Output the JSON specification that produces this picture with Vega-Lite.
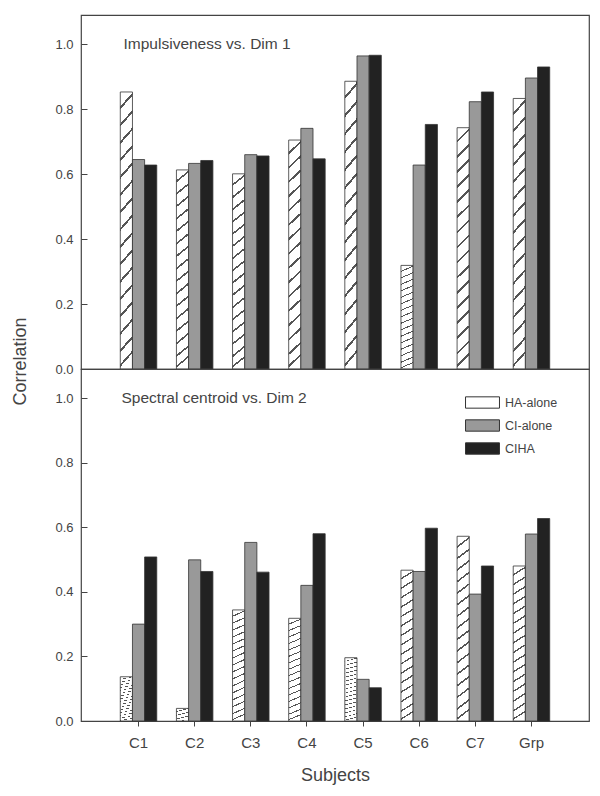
{
  "$schema": "https://vega.github.io/schema/vega-lite/v6.json",
  "background": "white",
  "padding": {"left": 10, "top": 14, "right": 11, "bottom": 5},
  "spacing": 0,
  "bounds": "flush",
  "config": {
    "font": "Liberation Sans",
    "view": {"stroke": "#444", "strokeWidth": 1.2},
    "axis": {"labelColor": "#444", "titleColor": "#444", "tickColor": "#444", "labelFont": "Liberation Sans", "titleFont": "Liberation Sans", "titleFontWeight": "normal"},
    "legend": {"labelColor": "#444", "labelFont": "Liberation Sans"}
  },
  "resolve": {"scale": {"fill": "independent"}, "legend": {"fill": "independent"}},
  "data": {"values": [
    {"dim": "Dim 1", "subject": "C1", "cond": "HA-alone", "value": 0.853},
    {"dim": "Dim 1", "subject": "C1", "cond": "CI-alone", "value": 0.645},
    {"dim": "Dim 1", "subject": "C1", "cond": "CIHA", "value": 0.628},
    {"dim": "Dim 1", "subject": "C2", "cond": "HA-alone", "value": 0.613},
    {"dim": "Dim 1", "subject": "C2", "cond": "CI-alone", "value": 0.633},
    {"dim": "Dim 1", "subject": "C2", "cond": "CIHA", "value": 0.642},
    {"dim": "Dim 1", "subject": "C3", "cond": "HA-alone", "value": 0.601},
    {"dim": "Dim 1", "subject": "C3", "cond": "CI-alone", "value": 0.66},
    {"dim": "Dim 1", "subject": "C3", "cond": "CIHA", "value": 0.656},
    {"dim": "Dim 1", "subject": "C4", "cond": "HA-alone", "value": 0.705},
    {"dim": "Dim 1", "subject": "C4", "cond": "CI-alone", "value": 0.741},
    {"dim": "Dim 1", "subject": "C4", "cond": "CIHA", "value": 0.647},
    {"dim": "Dim 1", "subject": "C5", "cond": "HA-alone", "value": 0.886},
    {"dim": "Dim 1", "subject": "C5", "cond": "CI-alone", "value": 0.964},
    {"dim": "Dim 1", "subject": "C5", "cond": "CIHA", "value": 0.966},
    {"dim": "Dim 1", "subject": "C6", "cond": "HA-alone", "value": 0.319},
    {"dim": "Dim 1", "subject": "C6", "cond": "CI-alone", "value": 0.628},
    {"dim": "Dim 1", "subject": "C6", "cond": "CIHA", "value": 0.753},
    {"dim": "Dim 1", "subject": "C7", "cond": "HA-alone", "value": 0.743},
    {"dim": "Dim 1", "subject": "C7", "cond": "CI-alone", "value": 0.823},
    {"dim": "Dim 1", "subject": "C7", "cond": "CIHA", "value": 0.853},
    {"dim": "Dim 1", "subject": "Grp", "cond": "HA-alone", "value": 0.833},
    {"dim": "Dim 1", "subject": "Grp", "cond": "CI-alone", "value": 0.896},
    {"dim": "Dim 1", "subject": "Grp", "cond": "CIHA", "value": 0.93},
    {"dim": "Dim 2", "subject": "C1", "cond": "HA-alone", "value": 0.137},
    {"dim": "Dim 2", "subject": "C1", "cond": "CI-alone", "value": 0.3},
    {"dim": "Dim 2", "subject": "C1", "cond": "CIHA", "value": 0.508},
    {"dim": "Dim 2", "subject": "C2", "cond": "HA-alone", "value": 0.039},
    {"dim": "Dim 2", "subject": "C2", "cond": "CI-alone", "value": 0.499},
    {"dim": "Dim 2", "subject": "C2", "cond": "CIHA", "value": 0.463},
    {"dim": "Dim 2", "subject": "C3", "cond": "HA-alone", "value": 0.344},
    {"dim": "Dim 2", "subject": "C3", "cond": "CI-alone", "value": 0.553},
    {"dim": "Dim 2", "subject": "C3", "cond": "CIHA", "value": 0.461},
    {"dim": "Dim 2", "subject": "C4", "cond": "HA-alone", "value": 0.318},
    {"dim": "Dim 2", "subject": "C4", "cond": "CI-alone", "value": 0.42},
    {"dim": "Dim 2", "subject": "C4", "cond": "CIHA", "value": 0.58},
    {"dim": "Dim 2", "subject": "C5", "cond": "HA-alone", "value": 0.196},
    {"dim": "Dim 2", "subject": "C5", "cond": "CI-alone", "value": 0.129},
    {"dim": "Dim 2", "subject": "C5", "cond": "CIHA", "value": 0.103},
    {"dim": "Dim 2", "subject": "C6", "cond": "HA-alone", "value": 0.467},
    {"dim": "Dim 2", "subject": "C6", "cond": "CI-alone", "value": 0.463},
    {"dim": "Dim 2", "subject": "C6", "cond": "CIHA", "value": 0.597},
    {"dim": "Dim 2", "subject": "C7", "cond": "HA-alone", "value": 0.572},
    {"dim": "Dim 2", "subject": "C7", "cond": "CI-alone", "value": 0.393},
    {"dim": "Dim 2", "subject": "C7", "cond": "CIHA", "value": 0.48},
    {"dim": "Dim 2", "subject": "Grp", "cond": "HA-alone", "value": 0.48},
    {"dim": "Dim 2", "subject": "Grp", "cond": "CI-alone", "value": 0.579},
    {"dim": "Dim 2", "subject": "Grp", "cond": "CIHA", "value": 0.627}
  ]},
  "vconcat": [
    {
      "width": 508,
      "height": 354,
      "layer": [
        {
          "transform": [{"filter": "datum.dim === 'Dim 1'"}],
          "mark": {"type": "bar", "stroke": "#333", "strokeWidth": 0.8},
          "encoding": {
            "x": {"field": "subject", "type": "nominal", "sort": ["C1", "C2", "C3", "C4", "C5", "C6", "C7", "Grp"], "scale": {"paddingInner": 0.35, "paddingOuter": 0.7}, "axis": null},
            "xOffset": {"field": "cond", "type": "nominal", "sort": ["HA-alone", "CI-alone", "CIHA"], "scale": {"paddingInner": 0, "paddingOuter": 0}},
            "y": {"field": "value", "type": "quantitative", "scale": {"domain": [0, 1.09], "nice": false},
              "axis": {"values": [0, 0.1, 0.2, 0.3, 0.4, 0.5, 0.6, 0.7, 0.8, 0.9, 1.0],
                "labelExpr": "round(datum.value*10) % 2 === 0 ? format(datum.value, '.1f') : ''",
                "tickSize": {"condition": {"test": "round(datum.value*10) % 2 === 1", "value": -3}, "value": -6},
                "labelPadding": 14, "labelFontSize": 13, "domain": false, "grid": false,
                "title": "Correlation", "titleFontSize": 18, "titleX": -52, "titleY": 346}},
            "fill": {
              "condition": {"test": "datum.cond === 'HA-alone'", "value": {"gradient": "linear", "x1": 0, "y1": 0, "x2": 0.05, "y2": 1, "stops": [
                {"offset": 0, "color": "#ffffff"}, {"offset": 0.052, "color": "#ffffff"}, {"offset": 0.052, "color": "#555555"}, {"offset": 0.0625, "color": "#555555"},
                {"offset": 0.0625, "color": "#ffffff"}, {"offset": 0.1145, "color": "#ffffff"}, {"offset": 0.1145, "color": "#555555"}, {"offset": 0.125, "color": "#555555"},
                {"offset": 0.125, "color": "#ffffff"}, {"offset": 0.177, "color": "#ffffff"}, {"offset": 0.177, "color": "#555555"}, {"offset": 0.1875, "color": "#555555"},
                {"offset": 0.1875, "color": "#ffffff"}, {"offset": 0.2395, "color": "#ffffff"}, {"offset": 0.2395, "color": "#555555"}, {"offset": 0.25, "color": "#555555"},
                {"offset": 0.25, "color": "#ffffff"}, {"offset": 0.302, "color": "#ffffff"}, {"offset": 0.302, "color": "#555555"}, {"offset": 0.3125, "color": "#555555"},
                {"offset": 0.3125, "color": "#ffffff"}, {"offset": 0.3645, "color": "#ffffff"}, {"offset": 0.3645, "color": "#555555"}, {"offset": 0.375, "color": "#555555"},
                {"offset": 0.375, "color": "#ffffff"}, {"offset": 0.427, "color": "#ffffff"}, {"offset": 0.427, "color": "#555555"}, {"offset": 0.4375, "color": "#555555"},
                {"offset": 0.4375, "color": "#ffffff"}, {"offset": 0.4895, "color": "#ffffff"}, {"offset": 0.4895, "color": "#555555"}, {"offset": 0.5, "color": "#555555"},
                {"offset": 0.5, "color": "#ffffff"}, {"offset": 0.552, "color": "#ffffff"}, {"offset": 0.552, "color": "#555555"}, {"offset": 0.5625, "color": "#555555"},
                {"offset": 0.5625, "color": "#ffffff"}, {"offset": 0.6145, "color": "#ffffff"}, {"offset": 0.6145, "color": "#555555"}, {"offset": 0.625, "color": "#555555"},
                {"offset": 0.625, "color": "#ffffff"}, {"offset": 0.677, "color": "#ffffff"}, {"offset": 0.677, "color": "#555555"}, {"offset": 0.6875, "color": "#555555"},
                {"offset": 0.6875, "color": "#ffffff"}, {"offset": 0.7395, "color": "#ffffff"}, {"offset": 0.7395, "color": "#555555"}, {"offset": 0.75, "color": "#555555"},
                {"offset": 0.75, "color": "#ffffff"}, {"offset": 0.802, "color": "#ffffff"}, {"offset": 0.802, "color": "#555555"}, {"offset": 0.8125, "color": "#555555"},
                {"offset": 0.8125, "color": "#ffffff"}, {"offset": 0.8645, "color": "#ffffff"}, {"offset": 0.8645, "color": "#555555"}, {"offset": 0.875, "color": "#555555"},
                {"offset": 0.875, "color": "#ffffff"}, {"offset": 0.927, "color": "#ffffff"}, {"offset": 0.927, "color": "#555555"}, {"offset": 0.9375, "color": "#555555"},
                {"offset": 0.9375, "color": "#ffffff"}, {"offset": 0.98, "color": "#ffffff"}, {"offset": 0.98, "color": "#555555"}, {"offset": 0.99, "color": "#555555"},
                {"offset": 0.99, "color": "#ffffff"}, {"offset": 1, "color": "#ffffff"}
              ]}},
              "field": "cond", "type": "nominal",
              "scale": {"domain": ["HA-alone", "CI-alone", "CIHA"], "range": ["#ffffff", "#999999", "#222222"]},
              "legend": null
            }
          }
        },
        {
          "data": {"values": [{"label": "Impulsiveness vs. Dim 1"}]},
          "mark": {"type": "text", "align": "left", "baseline": "middle", "dx": -15, "fontSize": 15.5, "fontWeight": "normal", "color": "#444"},
          "encoding": {
            "x": {"datum": "C1", "type": "nominal"},
            "y": {"datum": 1.0, "type": "quantitative"},
            "text": {"field": "label", "type": "nominal"}
          }
        }
      ]
    },
    {
      "width": 508,
      "height": 352,
      "layer": [
        {
          "transform": [{"filter": "datum.dim === 'Dim 2'"}],
          "mark": {"type": "bar", "stroke": "#333", "strokeWidth": 0.8},
          "encoding": {
            "x": {"field": "subject", "type": "nominal", "sort": ["C1", "C2", "C3", "C4", "C5", "C6", "C7", "Grp"], "scale": {"paddingInner": 0.35, "paddingOuter": 0.7},
              "axis": {"title": "Subjects", "titleFontSize": 18, "titlePadding": 16, "labelFontSize": 15, "labelAngle": 0, "tickSize": 5, "labelPadding": 9, "domain": false}},
            "xOffset": {"field": "cond", "type": "nominal", "sort": ["HA-alone", "CI-alone", "CIHA"], "scale": {"paddingInner": 0, "paddingOuter": 0}},
            "y": {"field": "value", "type": "quantitative", "scale": {"domain": [0, 1.09], "nice": false},
              "axis": {"values": [0, 0.1, 0.2, 0.3, 0.4, 0.5, 0.6, 0.7, 0.8, 0.9, 1.0],
                "labelExpr": "round(datum.value*10) % 2 === 0 ? format(datum.value, '.1f') : ''",
                "tickSize": {"condition": {"test": "round(datum.value*10) % 2 === 1", "value": -3}, "value": -6},
                "labelPadding": 14, "labelFontSize": 13, "domain": false, "grid": false, "title": null}},
            "fill": {
              "condition": {"test": "datum.cond === 'HA-alone'", "value": {"gradient": "linear", "x1": 0, "y1": 0, "x2": 0.05, "y2": 1, "stops": [
                {"offset": 0, "color": "#ffffff"}, {"offset": 0.052, "color": "#ffffff"}, {"offset": 0.052, "color": "#555555"}, {"offset": 0.0625, "color": "#555555"},
                {"offset": 0.0625, "color": "#ffffff"}, {"offset": 0.1145, "color": "#ffffff"}, {"offset": 0.1145, "color": "#555555"}, {"offset": 0.125, "color": "#555555"},
                {"offset": 0.125, "color": "#ffffff"}, {"offset": 0.177, "color": "#ffffff"}, {"offset": 0.177, "color": "#555555"}, {"offset": 0.1875, "color": "#555555"},
                {"offset": 0.1875, "color": "#ffffff"}, {"offset": 0.2395, "color": "#ffffff"}, {"offset": 0.2395, "color": "#555555"}, {"offset": 0.25, "color": "#555555"},
                {"offset": 0.25, "color": "#ffffff"}, {"offset": 0.302, "color": "#ffffff"}, {"offset": 0.302, "color": "#555555"}, {"offset": 0.3125, "color": "#555555"},
                {"offset": 0.3125, "color": "#ffffff"}, {"offset": 0.3645, "color": "#ffffff"}, {"offset": 0.3645, "color": "#555555"}, {"offset": 0.375, "color": "#555555"},
                {"offset": 0.375, "color": "#ffffff"}, {"offset": 0.427, "color": "#ffffff"}, {"offset": 0.427, "color": "#555555"}, {"offset": 0.4375, "color": "#555555"},
                {"offset": 0.4375, "color": "#ffffff"}, {"offset": 0.4895, "color": "#ffffff"}, {"offset": 0.4895, "color": "#555555"}, {"offset": 0.5, "color": "#555555"},
                {"offset": 0.5, "color": "#ffffff"}, {"offset": 0.552, "color": "#ffffff"}, {"offset": 0.552, "color": "#555555"}, {"offset": 0.5625, "color": "#555555"},
                {"offset": 0.5625, "color": "#ffffff"}, {"offset": 0.6145, "color": "#ffffff"}, {"offset": 0.6145, "color": "#555555"}, {"offset": 0.625, "color": "#555555"},
                {"offset": 0.625, "color": "#ffffff"}, {"offset": 0.677, "color": "#ffffff"}, {"offset": 0.677, "color": "#555555"}, {"offset": 0.6875, "color": "#555555"},
                {"offset": 0.6875, "color": "#ffffff"}, {"offset": 0.7395, "color": "#ffffff"}, {"offset": 0.7395, "color": "#555555"}, {"offset": 0.75, "color": "#555555"},
                {"offset": 0.75, "color": "#ffffff"}, {"offset": 0.802, "color": "#ffffff"}, {"offset": 0.802, "color": "#555555"}, {"offset": 0.8125, "color": "#555555"},
                {"offset": 0.8125, "color": "#ffffff"}, {"offset": 0.8645, "color": "#ffffff"}, {"offset": 0.8645, "color": "#555555"}, {"offset": 0.875, "color": "#555555"},
                {"offset": 0.875, "color": "#ffffff"}, {"offset": 0.927, "color": "#ffffff"}, {"offset": 0.927, "color": "#555555"}, {"offset": 0.9375, "color": "#555555"},
                {"offset": 0.9375, "color": "#ffffff"}, {"offset": 0.98, "color": "#ffffff"}, {"offset": 0.98, "color": "#555555"}, {"offset": 0.99, "color": "#555555"},
                {"offset": 0.99, "color": "#ffffff"}, {"offset": 1, "color": "#ffffff"}
              ]}},
              "field": "cond", "type": "nominal",
              "scale": {"domain": ["HA-alone", "CI-alone", "CIHA"], "range": ["#ffffff", "#999999", "#222222"]},
              "legend": {"title": null, "orient": "none", "legendX": 395, "legendY": 27,
                "symbolType": "M-3,-1H3V1H-3Z", "symbolSize": 128, "symbolStrokeColor": "#333", "symbolStrokeWidth": 1,
                "labelFontSize": 12.5, "labelOffset": 16, "rowPadding": 6}
            }
          }
        },
        {
          "data": {"values": [{"label": "Spectral centroid vs. Dim 2"}]},
          "mark": {"type": "text", "align": "left", "baseline": "middle", "dx": -17, "fontSize": 15.5, "fontWeight": "normal", "color": "#444"},
          "encoding": {
            "x": {"datum": "C1", "type": "nominal"},
            "y": {"datum": 1.0, "type": "quantitative"},
            "text": {"field": "label", "type": "nominal"}
          }
        }
      ]
    }
  ]
}
